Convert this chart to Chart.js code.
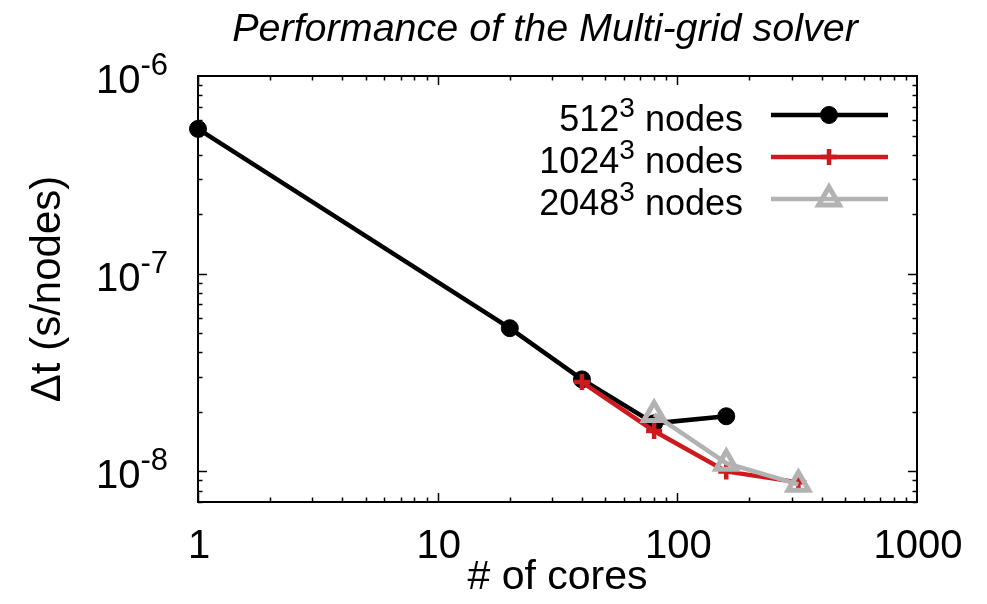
<!DOCTYPE html>
<html>
<head>
<meta charset="utf-8">
<title>Multi-grid solver performance</title>
<script src="https://cdn.jsdelivr.net/npm/chart.js@4/dist/chart.umd.min.js"></script>
<style>
  html, body { margin: 0; padding: 0; background: #fff; }
  #wrap { width: 987px; height: 604px; }
</style>
</head>
<body>
<div id="wrap"><canvas id="perf"></canvas></div>
<script>
// time per node per step against number of cores, one series per grid size
const cores512 = [1, 20, 40, 80, 160];
const dt512 = [5.4e-7, 5.3e-8, 2.92e-8, 1.75e-8, 1.9e-8];
const cores1024 = [40, 80, 160, 320];
const dt1024 = [2.83e-8, 1.6e-8, 1.0e-8, 8.8e-9];
const cores2048 = [80, 160, 320];
const dt2048 = [1.94e-8, 1.1e-8, 8.6e-9];

const gridSizes = ['512', '1024', '2048'];
const xMajor = [1, 10, 100, 1000];
const yMajorExp = [-8, -7, -6];

const X_MIN = 1, X_MAX = 1000;
const Y_MIN = 7e-9, Y_MAX = 1e-6;

const FONT = '"Liberation Sans", Arial, Helvetica, sans-serif';
const toPoints = (xs, ys) => xs.map((x, i) => ({ x, y: ys[i] }));

// text with a raised exponent, e.g. 10^-7 or 512^3
function supWidth(ctx, base, sup, tail, size, supSize) {
  ctx.font = `${size}px ${FONT}`;
  let w = ctx.measureText(base).width + (tail ? ctx.measureText(tail).width : 0);
  ctx.font = `${supSize}px ${FONT}`;
  return w + ctx.measureText(sup).width;
}

function drawSup(ctx, base, sup, tail, x, y, size, supSize, rise) {
  ctx.textAlign = 'left';
  ctx.textBaseline = 'alphabetic';
  ctx.font = `${size}px ${FONT}`;
  ctx.fillText(base, x, y);
  x += ctx.measureText(base).width;
  ctx.font = `${supSize}px ${FONT}`;
  ctx.fillText(sup, x, y - rise);
  x += ctx.measureText(sup).width;
  if (tail) {
    ctx.font = `${size}px ${FONT}`;
    ctx.fillText(tail, x, y);
  }
}

// closed frame with inward log ticks on all four sides
const frame = {
  id: 'frame',
  beforeDatasetsDraw(chart) {
    const { ctx, chartArea: a, scales: { x, y } } = chart;
    ctx.save();
    ctx.strokeStyle = '#000';
    ctx.lineWidth = 1.5;
    ctx.beginPath();
    for (let d = 0; d < 3; d++) {
      for (let m = 1; m <= 9; m++) {
        const v = m * Math.pow(10, d);
        const px = Math.round(x.getPixelForValue(v)) + 0.5;
        const len = m === 1 ? 9 : 4.5;
        ctx.moveTo(px, a.bottom); ctx.lineTo(px, a.bottom - len);
        ctx.moveTo(px, a.top); ctx.lineTo(px, a.top + len);
      }
    }
    for (let e = -9; e <= -7; e++) {
      for (let m = 1; m <= 9; m++) {
        const v = m * Math.pow(10, e);
        if (v < Y_MIN * 0.999) continue;
        const py = Math.round(y.getPixelForValue(v)) + 0.5;
        const len = m === 1 ? 9 : 4.5;
        ctx.moveTo(a.left, py); ctx.lineTo(a.left + len, py);
        ctx.moveTo(a.right, py); ctx.lineTo(a.right - len, py);
      }
    }
    ctx.stroke();
    ctx.lineWidth = 2;
    ctx.strokeRect(a.left, a.top, a.right - a.left, a.bottom - a.top);
    ctx.restore();
  },
  afterDraw(chart) {
    const { ctx, chartArea: a, scales: { x, y } } = chart;
    ctx.save();
    ctx.fillStyle = '#000';

    // x tick labels
    ctx.font = `40px ${FONT}`;
    ctx.textAlign = 'center';
    ctx.textBaseline = 'alphabetic';
    xMajor.forEach(v => ctx.fillText(String(v), x.getPixelForValue(v) + 1, 558));

    // y tick labels, right aligned
    yMajorExp.forEach(e => {
      const py = y.getPixelForValue(Math.pow(10, e));
      const w = supWidth(ctx, '10', String(e), '', 40, 31);
      drawSup(ctx, '10', String(e), '', 168 - w, py + 17, 40, 31, 18);
    });

    // axis titles
    ctx.font = `41px ${FONT}`;
    ctx.textAlign = 'center';
    ctx.fillText('# of cores', (a.left + a.right) / 2, 589);
    ctx.save();
    ctx.translate(60, (a.top + a.bottom) / 2);
    ctx.rotate(-Math.PI / 2);
    ctx.font = `42px ${FONT}`;
    ctx.fillText('\u0394t (s/nodes)', 0, 0);
    ctx.restore();

    // title
    ctx.font = `italic 39.5px ${FONT}`;
    ctx.fillText('Performance of the Multi-grid solver', 545, 41);

    // key: text right aligned, then a line sample with the marker
    const rows = [115, 157, 199];
    chart.data.datasets.forEach((ds, i) => {
      const ly = rows[i];
      const w = supWidth(ctx, gridSizes[i], '3', ' nodes', 36, 28);
      ctx.fillStyle = '#000';
      drawSup(ctx, gridSizes[i], '3', ' nodes', 743 - w, ly + 16, 36, 28, 14);
      ctx.strokeStyle = ds.borderColor;
      ctx.lineWidth = ds.borderWidth;
      ctx.beginPath();
      ctx.moveTo(771, ly); ctx.lineTo(888, ly);
      ctx.stroke();
      ctx.fillStyle = ds.pointBackgroundColor;
      ctx.lineWidth = ds.pointBorderWidth;
      Chart.helpers.drawPoint(ctx, {
        pointStyle: ds.pointStyle, radius: ds.pointRadius, rotation: 0, borderWidth: ds.pointBorderWidth
      }, 829, ly);
    });
    ctx.restore();
  }
};

new Chart(document.getElementById('perf'), {
  type: 'line',
  data: {
    datasets: [
      {
        label: '512^3 nodes', data: toPoints(cores512, dt512),
        borderColor: '#000000', borderWidth: 4.5,
        pointStyle: 'circle', pointRadius: 8.5, pointBackgroundColor: '#000000',
        pointBorderColor: '#000000', pointBorderWidth: 1, order: 3, clip: false
      },
      {
        label: '1024^3 nodes', data: toPoints(cores1024, dt1024),
        borderColor: '#cc1a1f', borderWidth: 4.5,
        pointStyle: 'cross', pointRadius: 8, pointBackgroundColor: '#cc1a1f',
        pointBorderColor: '#cc1a1f', pointBorderWidth: 4.5, order: 2, clip: false
      },
      {
        label: '2048^3 nodes', data: toPoints(cores2048, dt2048),
        borderColor: '#b2b2b2', borderWidth: 4.5,
        pointStyle: 'triangle', pointRadius: 12, pointBackgroundColor: 'rgba(255,255,255,0)',
        pointBorderColor: '#b2b2b2', pointBorderWidth: 5, order: 1, clip: false
      }
    ]
  },
  options: {
    responsive: true,
    maintainAspectRatio: false,
    animation: false,
    layout: { padding: { left: 198, top: 76, right: 70, bottom: 102 } },
    plugins: { legend: { display: false }, tooltip: { enabled: false }, title: { display: false } },
    elements: { line: { tension: 0 } },
    scales: {
      x: { type: 'logarithmic', min: X_MIN, max: X_MAX, display: false },
      y: { type: 'logarithmic', min: Y_MIN, max: Y_MAX, display: false }
    }
  },
  plugins: [frame]
});
</script>
</body>
</html>
